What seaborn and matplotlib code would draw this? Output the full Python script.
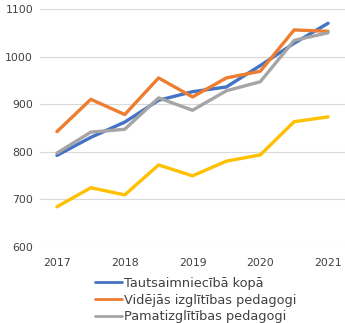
import matplotlib
matplotlib.use("Agg")
import matplotlib.pyplot as plt
import seaborn as sns
import pandas as pd

# Half-year periods, 2017 through 2021
periods = [2017.0, 2017.5, 2018.0, 2018.5, 2019.0, 2019.5, 2020.0, 2020.5, 2021.0]
tick_years = [2017, 2018, 2019, 2020, 2021]

economy_total = [792, 830, 862, 908, 926, 936, 981, 1028, 1070]
secondary_teachers = [842, 910, 878, 955, 915, 955, 969, 1056, 1053]
basic_teachers = [797, 841, 847, 913, 887, 928, 947, 1034, 1050]
preschool_teachers = [684, 724, 709, 772, 749, 780, 793, 863, 873]

series_names = [
    "Tautsaimniecībā kopā",
    "Vidējās izglītības pedagogi",
    "Pamatizglītības pedagogi",
    "Pirmsskolas izglītības pedagogi",
]
series_values = [economy_total, secondary_teachers, basic_teachers, preschool_teachers]
palette = ["#4472C4", "#ED7D31", "#A5A5A5", "#FFC000"]

rows = []
for name, vals in zip(series_names, series_values):
    for p, v in zip(periods, vals):
        rows.append({"period": p, "value": v, "series": name})
df = pd.DataFrame(rows)

sns.set_theme(style="white")
plt.rcParams["font.family"] = ["DejaVu Sans"]

fig = plt.figure(figsize=(3.45, 3.23), dpi=100)
ax = fig.add_axes([40 / 345, (323 - 246.7) / 323, 305 / 345, (246.7 - 9) / 323])

sns.lineplot(data=df, x="period", y="value", hue="series", hue_order=series_names,
             palette=palette, linewidth=2.4, ax=ax, legend=True)

ax.set_xlim(2016.75, 2021.25)
ax.set_ylim(600, 1100)
ax.set_xticks(tick_years)
ax.set_xticklabels([str(y) for y in tick_years])
ax.set_yticks([600, 700, 800, 900, 1000, 1100])
ax.set_xlabel("")
ax.set_ylabel("")
ax.yaxis.grid(True, color="#D9D9D9", linewidth=0.8)
ax.xaxis.grid(False)
ax.set_axisbelow(True)
for s in ax.spines.values():
    s.set_visible(False)
ax.tick_params(axis="both", length=0, labelsize=7.8, colors="#404040")
ax.tick_params(axis="x", pad=8)
ax.tick_params(axis="y", pad=5)

handles, labels = ax.get_legend_handles_labels()
ax.get_legend().remove()
leg = fig.legend(handles[:3], labels[:3], loc="upper left",
                 bbox_to_anchor=(95 / 345, 1 - 277 / 323), frameon=False,
                 fontsize=9.3, handlelength=2.1, handletextpad=0.15,
                 labelspacing=0.28, borderpad=0, borderaxespad=0)
for t in leg.get_texts():
    t.set_color("#404040")
for h in leg.legend_handles:
    h.set_linewidth(2.0)

fig.savefig("out.png", dpi=100)
